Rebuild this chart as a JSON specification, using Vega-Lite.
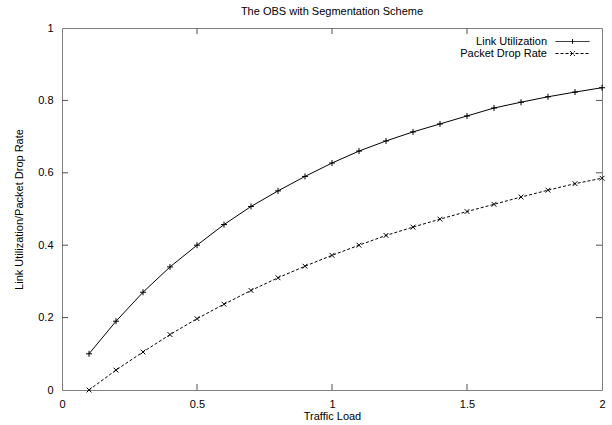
{
  "$schema": "https://vega.github.io/schema/vega-lite/v6.json",
  "width": 540,
  "height": 362,
  "autosize": "none",
  "padding": {"left": 62, "top": 28, "right": 10, "bottom": 35},
  "background": "white",
  "title": {"text": "The OBS with Segmentation Scheme", "fontSize": 11, "fontWeight": "normal", "font": "Liberation Sans", "color": "black", "offset": 5},
  "config": {
    "view": {"stroke": "#808080", "strokeWidth": 1},
    "axis": {"grid": false, "domain": false, "ticks": false, "labelFont": "Liberation Sans", "labelFontSize": 11, "labelColor": "black", "titleFont": "Liberation Sans", "titleFontSize": 11, "titleFontWeight": "normal", "titleColor": "black", "labelFlush": false, "labelOverlap": false},
    "legend": {"labelFont": "Liberation Sans", "labelFontSize": 11, "labelColor": "black", "padding": 0}
  },
  "datasets": {
    "xticks": [{"t": 0.5}, {"t": 1}, {"t": 1.5}],
    "yticks": [{"t": 0.2}, {"t": 0.4}, {"t": 0.6}, {"t": 0.8}]
  },
  "data": {"values": [
    {"load": 0.1, "value": 0.100, "series": "Link Utilization"},
    {"load": 0.2, "value": 0.190, "series": "Link Utilization"},
    {"load": 0.3, "value": 0.270, "series": "Link Utilization"},
    {"load": 0.4, "value": 0.340, "series": "Link Utilization"},
    {"load": 0.5, "value": 0.400, "series": "Link Utilization"},
    {"load": 0.6, "value": 0.457, "series": "Link Utilization"},
    {"load": 0.7, "value": 0.507, "series": "Link Utilization"},
    {"load": 0.8, "value": 0.550, "series": "Link Utilization"},
    {"load": 0.9, "value": 0.590, "series": "Link Utilization"},
    {"load": 1.0, "value": 0.627, "series": "Link Utilization"},
    {"load": 1.1, "value": 0.660, "series": "Link Utilization"},
    {"load": 1.2, "value": 0.688, "series": "Link Utilization"},
    {"load": 1.3, "value": 0.713, "series": "Link Utilization"},
    {"load": 1.4, "value": 0.735, "series": "Link Utilization"},
    {"load": 1.5, "value": 0.757, "series": "Link Utilization"},
    {"load": 1.6, "value": 0.779, "series": "Link Utilization"},
    {"load": 1.7, "value": 0.795, "series": "Link Utilization"},
    {"load": 1.8, "value": 0.810, "series": "Link Utilization"},
    {"load": 1.9, "value": 0.823, "series": "Link Utilization"},
    {"load": 2.0, "value": 0.835, "series": "Link Utilization"},
    {"load": 0.1, "value": 0.000, "series": "Packet Drop Rate"},
    {"load": 0.2, "value": 0.055, "series": "Packet Drop Rate"},
    {"load": 0.3, "value": 0.105, "series": "Packet Drop Rate"},
    {"load": 0.4, "value": 0.153, "series": "Packet Drop Rate"},
    {"load": 0.5, "value": 0.197, "series": "Packet Drop Rate"},
    {"load": 0.6, "value": 0.237, "series": "Packet Drop Rate"},
    {"load": 0.7, "value": 0.275, "series": "Packet Drop Rate"},
    {"load": 0.8, "value": 0.310, "series": "Packet Drop Rate"},
    {"load": 0.9, "value": 0.342, "series": "Packet Drop Rate"},
    {"load": 1.0, "value": 0.372, "series": "Packet Drop Rate"},
    {"load": 1.1, "value": 0.400, "series": "Packet Drop Rate"},
    {"load": 1.2, "value": 0.427, "series": "Packet Drop Rate"},
    {"load": 1.3, "value": 0.450, "series": "Packet Drop Rate"},
    {"load": 1.4, "value": 0.472, "series": "Packet Drop Rate"},
    {"load": 1.5, "value": 0.493, "series": "Packet Drop Rate"},
    {"load": 1.6, "value": 0.513, "series": "Packet Drop Rate"},
    {"load": 1.7, "value": 0.533, "series": "Packet Drop Rate"},
    {"load": 1.8, "value": 0.552, "series": "Packet Drop Rate"},
    {"load": 1.9, "value": 0.570, "series": "Packet Drop Rate"},
    {"load": 2.0, "value": 0.585, "series": "Packet Drop Rate"}
  ]},
  "layer": [
    {
      "transform": [{"filter": "datum.series === 'Link Utilization'"}],
      "mark": {"type": "line", "color": "black", "strokeWidth": 1},
      "encoding": {
        "x": {"field": "load", "type": "quantitative", "scale": {"domain": [0, 2], "nice": false}, "axis": {"orient": "bottom", "title": "Traffic Load", "values": [0, 0.5, 1, 1.5, 2], "format": "~g", "labelPadding": 8, "titlePadding": 1}},
        "y": {"field": "value", "type": "quantitative", "scale": {"domain": [0, 1], "nice": false}, "axis": {"orient": "left", "title": "Link Utilization/Packet Drop Rate", "values": [0, 0.2, 0.4, 0.6, 0.8, 1], "format": "~g", "labelPadding": 9, "titlePadding": 13}}
      }
    },
    {
      "transform": [{"filter": "datum.series === 'Packet Drop Rate'"}],
      "mark": {"type": "line", "color": "black", "strokeWidth": 1, "strokeDash": [3, 2]},
      "encoding": {
        "x": {"field": "load", "type": "quantitative"},
        "y": {"field": "value", "type": "quantitative"}
      }
    },
    {
      "transform": [{"filter": "datum.series === 'Link Utilization'"}],
      "mark": {"type": "point", "filled": false, "color": "black", "strokeWidth": 1, "size": 36, "opacity": 1, "shape": "M-1,0H1M0,-1V1"},
      "encoding": {
        "x": {"field": "load", "type": "quantitative"},
        "y": {"field": "value", "type": "quantitative"}
      }
    },
    {
      "transform": [{"filter": "datum.series === 'Packet Drop Rate'"}],
      "mark": {"type": "point", "filled": false, "color": "black", "strokeWidth": 1, "size": 36, "opacity": 1, "shape": "M-0.8,-0.8L0.8,0.8M-0.8,0.8L0.8,-0.8"},
      "encoding": {
        "x": {"field": "load", "type": "quantitative"},
        "y": {"field": "value", "type": "quantitative"}
      }
    },
    {
      "data": {"name": "xticks"},
      "mark": {"type": "tick", "orient": "vertical", "size": 6, "thickness": 1, "color": "#505050", "opacity": 1, "yOffset": -3},
      "encoding": {
        "x": {"field": "t", "type": "quantitative"},
        "y": {"datum": 0, "type": "quantitative"}
      }
    },
    {
      "data": {"name": "xticks"},
      "mark": {"type": "tick", "orient": "vertical", "size": 6, "thickness": 1, "color": "#505050", "opacity": 1, "yOffset": 3},
      "encoding": {
        "x": {"field": "t", "type": "quantitative"},
        "y": {"datum": 1, "type": "quantitative"}
      }
    },
    {
      "data": {"name": "yticks"},
      "mark": {"type": "tick", "orient": "horizontal", "size": 6, "thickness": 1, "color": "#505050", "opacity": 1, "xOffset": 3},
      "encoding": {
        "y": {"field": "t", "type": "quantitative"},
        "x": {"datum": 0, "type": "quantitative"}
      }
    },
    {
      "data": {"name": "yticks"},
      "mark": {"type": "tick", "orient": "horizontal", "size": 6, "thickness": 1, "color": "#505050", "opacity": 1, "xOffset": -3},
      "encoding": {
        "y": {"field": "t", "type": "quantitative"},
        "x": {"datum": 2, "type": "quantitative"}
      }
    },
    {
      "transform": [{"filter": "false"}],
      "mark": {"type": "point", "filled": false, "color": "black", "strokeWidth": 1, "size": 144},
      "encoding": {
        "x": {"field": "load", "type": "quantitative"},
        "y": {"field": "value", "type": "quantitative"},
        "shape": {"field": "series", "type": "nominal", "scale": {"domain": ["Link Utilization", "Packet Drop Rate"], "range": ["M-2.83,0H2.83M0,-0.4V0.4", "M-2.83,0H2.83M-0.4,-0.4L0.4,0.4M-0.4,0.4L0.4,-0.4"]},
          "legend": {"title": null, "orient": "none", "legendX": 504, "legendY": 7, "symbolSize": 144, "symbolStrokeWidth": 1, "symbolStrokeColor": "black", "symbolOpacity": 1, "labelAlign": "right", "labelOffset": -32, "rowPadding": 0}},
        "strokeDash": {"field": "series", "type": "nominal", "scale": {"domain": ["Link Utilization", "Packet Drop Rate"], "range": [[1, 0], [3, 2]]},
          "legend": {"title": null, "orient": "none", "legendX": 504, "legendY": 7, "symbolSize": 144, "symbolStrokeWidth": 1, "symbolStrokeColor": "black", "symbolOpacity": 1, "labelAlign": "right", "labelOffset": -32, "rowPadding": 0}}
      }
    }
  ]
}
